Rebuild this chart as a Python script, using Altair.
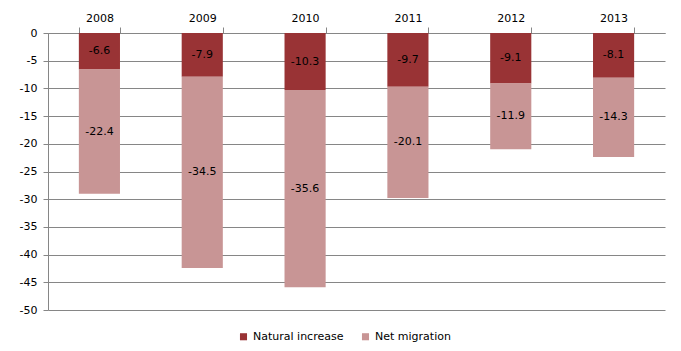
import altair as alt
import pandas as pd

years = ["2008", "2009", "2010", "2011", "2012", "2013"]
natural = [-6.6, -7.9, -10.3, -9.7, -9.1, -8.1]
migration = [-22.4, -34.5, -35.6, -20.1, -11.9, -14.3]
series = ["Natural increase", "Net migration"]
colors = ["#993335", "#c89595"]

rows = []
for i, y in enumerate(years):
    start = 0.0
    for k, (s, v) in enumerate(zip(series, [natural[i], migration[i]])):
        end = start + v
        rows.append({"year": y, "series": s, "value": v, "start": start,
                     "end": end, "mid": (start + end) / 2, "order": k,
                     "label": f"{v:.1f}"})
        start = end
df = pd.DataFrame(rows)

FONT = "DejaVu Sans"

x_axis = alt.Axis(orient="top", labelAngle=0, tickBand="extent",
                  domainColor="#868686", tickColor="#868686",
                  tickSize=6, labelPadding=4, labelFontSize=11,
                  labelFont=FONT, labelColor="#000000")
x_scale = alt.Scale(paddingInner=0.6, paddingOuter=0.3)
y_axis = alt.Axis(values=list(range(-50, 1, 5)), grid=True,
                  labelOverlap=False,
                  labelExpr="replace(format(datum.value, 'd'), '\u2212', '-')",
                  gridColor="#868686", domainColor="#868686",
                  tickColor="#868686", tickSize=5, labelFontSize=11,
                  labelFont=FONT, labelColor="#000000",
                  labelPadding=6)
y_scale = alt.Scale(domain=[-50, 0], nice=False)

bars = alt.Chart(df).mark_bar().encode(
    x=alt.X("year:N", sort=years, title=None, scale=x_scale, axis=x_axis),
    y=alt.Y("start:Q", title=None, scale=y_scale, axis=y_axis),
    y2="end:Q",
    color=alt.Color("series:N", sort=series,
                    scale=alt.Scale(domain=series, range=colors),
                    legend=alt.Legend(title=None, orient="none",
                                      direction="horizontal",
                                      legendX=190, legendY=298,
                                      symbolType="square", symbolSize=50,
                                      symbolStrokeWidth=0,
                                      labelFontSize=11, labelFont=FONT,
                                      labelColor="#000000",
                                      columnPadding=16, labelOffset=4)),
)

texts = alt.Chart(df).mark_text(fontSize=11, font=FONT, color="#000000").encode(
    x=alt.X("year:N", sort=years, title=None, scale=x_scale, axis=x_axis),
    y=alt.Y("mid:Q", title=None, scale=y_scale, axis=y_axis),
    text="label:N",
)

chart = (bars + texts).properties(
    width=617, height=277,
    background="white",
    autosize=alt.AutoSizeParams(type="none"),
    padding={"left": 48, "top": 33, "right": 16, "bottom": 41},
).configure_view(stroke=None)

chart.save("out.html", embed_options={"renderer": "svg", "actions": False})
